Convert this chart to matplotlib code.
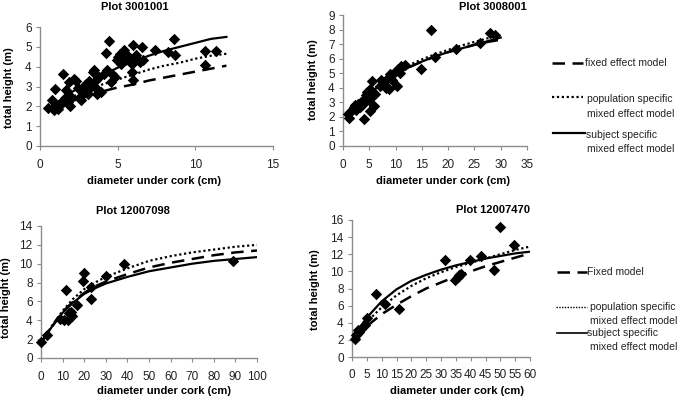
import numpy as np
import matplotlib.pyplot as plt
from matplotlib.lines import Line2D

plt.rcParams['font.family'] = ['Liberation Sans', 'DejaVu Sans']

# ---- Plot 3001001 ----
p1_dbh = [0.5, 0.75, 0.95, 0.9, 1.15, 1.05, 1.35, 1.5, 1.6, 1.7, 1.85, 1.8, 1.9, 2.0,
          2.3, 2.45, 2.55, 2.65, 2.75, 2.85, 2.95, 3.05, 3.15, 3.25, 3.4, 3.5, 3.55,
          3.6, 3.7, 3.8, 3.9, 4.1, 4.3, 4.25, 4.45, 4.55, 4.65, 4.8, 4.95, 5.05, 5.15,
          5.2, 5.4, 5.5, 5.6, 5.8, 5.9, 6.0, 5.9, 6.0, 6.2, 6.55, 6.45, 6.65, 7.4,
          8.25, 8.65, 8.7, 10.6, 10.6, 11.3, 2.2, 2.9, 3.1, 3.3, 5.3, 5.7]
p1_h = [1.92, 2.3, 2.85, 1.8, 1.88, 1.97, 2.13, 3.65, 2.4, 2.8, 3.23, 2.22, 2.0, 2.47,
        3.3, 2.9, 2.47, 2.3, 2.72, 2.97, 3.14, 2.8, 3.3, 3.06, 3.75, 3.82, 3.3,
        2.9, 2.64, 3.48, 2.72, 3.65, 3.82, 4.7, 5.3, 3.23, 3.65, 3.48, 4.32, 4.49, 4.66,
        4.15, 4.82, 4.4, 4.57, 4.32, 4.15, 5.1, 3.73, 3.31, 4.57, 4.98, 4.23, 4.35, 4.82,
        4.72, 5.4, 4.6, 4.8, 4.1, 4.8, 3.4, 3.1, 2.6, 2.95, 4.3, 4.45]
p1_x = [0.5, 1, 2, 3, 4, 5, 6, 7, 8, 9, 10, 11, 12]
p1_fixed = [1.8, 1.95, 2.25, 2.5, 2.75, 2.95, 3.1, 3.3, 3.45, 3.6, 3.75, 3.9, 4.05]
p1_pop = [1.85, 2.05, 2.45, 2.8, 3.1, 3.35, 3.6, 3.85, 4.05, 4.2, 4.4, 4.55, 4.65]
p1_subj = [1.9, 2.15, 2.7, 3.15, 3.55, 3.95, 4.25, 4.55, 4.8, 5.0, 5.2, 5.4, 5.5]

# ---- Plot 3008001 ----
p2_dbh = [1.15, 1.4, 0.95, 1.9, 2.2, 2.55, 2.85, 3.2, 3.5, 3.8, 4.0, 4.1, 4.45, 4.8,
          5.0, 5.1, 5.2, 5.4, 5.6, 5.85, 6.1, 7.0, 7.3, 7.8, 8.15, 8.4, 8.8, 8.9, 9.4,
          9.9, 10.3, 10.5, 10.8, 11.1, 11.8, 14.8, 16.7, 17.5, 21.5, 26.1, 27.9, 29.0,
          2.0, 2.7, 3.0, 3.4, 4.3, 4.6, 4.9, 5.3]
p2_h = [1.95, 2.34, 2.22, 2.57, 2.8, 2.45, 2.91, 2.68, 3.03, 2.91, 1.88, 3.26, 3.49, 3.72,
        3.14, 3.95, 2.41, 3.37, 4.47, 2.75, 3.6, 4.1, 4.52, 4.29, 4.01, 4.63, 3.95, 4.93, 4.52,
        5.09, 4.1, 5.32, 5.02, 5.48, 5.55, 5.28, 7.96, 6.12, 6.63, 7.09, 7.73, 7.61,
        2.7, 2.6, 2.9, 2.95, 3.3, 3.7, 3.5, 3.8]
p2_x = [1, 2.5, 5, 7.5, 10, 12.5, 15, 17.5, 20, 22.5, 25, 27.5, 30]
p2_fixed = [2.0, 2.75, 3.6, 4.3, 4.9, 5.4, 5.8, 6.15, 6.45, 6.7, 6.95, 7.15, 7.3]
p2_pop = [2.1, 2.8, 3.65, 4.4, 5.0, 5.55, 5.95, 6.3, 6.6, 6.9, 7.15, 7.4, 7.6]
p2_subj = [2.1, 2.8, 3.6, 4.3, 4.9, 5.4, 5.8, 6.15, 6.45, 6.7, 6.95, 7.2, 7.45]

# ---- Plot 12007098 ----
p3_dbh = [0.1, 2.8, 8.9, 10.7, 11.5, 12.3, 13.0, 13.8, 14.5, 14.1, 16.5, 19.9, 19.6,
          23.0, 23.3, 29.9, 38.6, 88.8]
p3_h = [1.69, 2.46, 4.12, 3.98, 7.2, 3.98, 4.82, 4.58, 4.47, 4.93, 5.63, 9.05, 8.2,
        7.5, 6.23, 8.7, 9.93, 10.3]
p3_x = [0, 5, 10, 15, 20, 25, 30, 40, 50, 60, 70, 80, 90, 100]
p3_fixed = [1.6, 3.3, 4.9, 6.0, 6.9, 7.6, 8.1, 8.9, 9.6, 10.1, 10.5, 10.9, 11.2, 11.4]
p3_pop = [1.6, 3.4, 5.0, 6.3, 7.3, 8.0, 8.6, 9.5, 10.3, 10.8, 11.2, 11.5, 11.8, 12.0]
p3_subj = [1.6, 3.3, 4.8, 5.9, 6.8, 7.4, 7.9, 8.6, 9.2, 9.6, 10.0, 10.3, 10.5, 10.7]

# ---- Plot 12007470 ----
p4_dbh = [0.9, 1.35, 2.0, 2.5, 3.1, 1.7, 5.05, 4.5, 8.1, 11.2, 15.7, 31.2, 34.8, 35.7,
          36.2, 36.9, 39.9, 43.6, 47.8, 49.8, 54.5]
p4_h = [2.15, 2.54, 3.1, 2.9, 3.3, 2.7, 4.5, 3.7, 7.3, 6.2, 5.6, 11.3, 9.0, 9.3,
        9.6, 9.7, 11.3, 11.8, 10.2, 15.2, 13.1]
p4_x = [0.5, 5, 10, 15, 20, 25, 30, 35, 40, 45, 50, 55, 60]
p4_fixed = [2.0, 3.6, 5.0, 6.1, 7.1, 8.0, 8.7, 9.4, 10.0, 10.6, 11.1, 11.6, 12.1]
p4_pop = [2.1, 4.1, 5.8, 7.2, 8.3, 9.2, 9.9, 10.5, 11.0, 11.5, 12.0, 12.5, 12.9]
p4_subj = [2.4, 4.6, 6.5, 7.9, 8.9, 9.6, 10.2, 10.7, 11.1, 11.5, 11.8, 12.1, 12.3]

W, H = 685, 397
fig = plt.figure(figsize=(W / 100, H / 100), dpi=100)

def fx(px):
    return px / W

def fy(py):
    return 1 - py / H

DASH = dict(color='black', lw=1.8, dashes=(5, 3))
DOT = dict(color='black', lw=1.6, linestyle=(0, (1, 1.2)))
SOLID = dict(color='black', lw=1.6)

panels = [
    # box(l, t, r, b) in px, data, xlim, xticks, ylim, yticks
    ((40, 27, 273, 146), p1_dbh, p1_h, p1_x, p1_fixed, p1_pop, p1_subj,
     (0, 15), np.arange(0, 16, 5), (0, 6), np.arange(0, 7, 1)),
    ((343, 15, 527, 146), p2_dbh, p2_h, p2_x, p2_fixed, p2_pop, p2_subj,
     (0, 35), np.arange(0, 36, 5), (0, 9), np.arange(0, 10, 1)),
    ((41, 226, 257, 358), p3_dbh, p3_h, p3_x, p3_fixed, p3_pop, p3_subj,
     (0, 100), np.arange(0, 101, 10), (0, 14), np.arange(0, 15, 2)),
    ((352, 220, 530, 357), p4_dbh, p4_h, p4_x, p4_fixed, p4_pop, p4_subj,
     (0, 60), np.arange(0, 61, 5), (0, 16), np.arange(0, 17, 2)),
]

for box, dx, dy, cx, cf, cp, cs, xl, xt, yl, yt in panels:
    l, t, r, b = box
    ax = fig.add_axes([fx(l), fy(b), fx(r) - fx(l), fy(t) - fy(b)])
    ax.scatter(dx, dy, marker='D', s=34, color='black', zorder=3, linewidths=0,
               clip_on=False)
    ax.plot(cx, cf, **DASH)
    ax.plot(cx, cp, **DOT)
    ax.plot(cx, cs, **SOLID)
    ax.set_xlim(*xl)
    ax.set_ylim(*yl)
    ax.set_xticks(xt)
    ax.set_yticks(yt)
    for s in ['top', 'right']:
        ax.spines[s].set_visible(False)
    for s in ['left', 'bottom']:
        ax.spines[s].set_color('#8c8c8c')
        ax.spines[s].set_linewidth(1.0)
    ax.tick_params(direction='out', length=3, width=0.8, color='#8c8c8c',
                   labelsize=8.5, labelcolor='#222222', pad=3)
    ax.tick_params(axis='x', pad=6)

tkw = dict(fontsize=8, fontweight='bold', ha='center', va='center')
fig.text(fx(135), fy(7), 'Plot 3001001', **tkw)
fig.text(fx(493), fy(7), 'Plot 3008001', **tkw)
fig.text(fx(133), fy(211), 'Plot 12007098', **tkw)
fig.text(fx(493), fy(210), 'Plot 12007470', **tkw)

fig.text(fx(154), fy(181), 'diameter under cork (cm)', **tkw)
fig.text(fx(443), fy(181), 'diameter under cork (cm)', **tkw)
fig.text(fx(164), fy(391), 'diameter under cork (cm)', **tkw)
fig.text(fx(457), fy(391), 'diameter under cork (cm)', **tkw)

fig.text(fx(9), fy(88), 'total height (m)', rotation=90, **tkw)
fig.text(fx(313), fy(80), 'total height (m)', rotation=90, **tkw)
fig.text(fx(6), fy(298), 'total height (m)', rotation=90, **tkw)
fig.text(fx(315), fy(290), 'total height (m)', rotation=90, **tkw)

# legends (samples + text in figure space)
lkw = dict(fontsize=7.5, color='#222222', ha='left', va='center')

def sample(x0, x1, y, style):
    fig.add_artist(Line2D([fx(x0), fx(x1)], [fy(y), fy(y)],
                          transform=fig.transFigure, **style))

sample(552, 583, 63, DASH)
fig.text(fx(585), fy(63), 'fixed effect model', **lkw)
sample(552, 583, 97, DOT)
fig.text(fx(587), fy(99), 'population specific', **lkw)
fig.text(fx(587), fy(114), 'mixed effect model', **lkw)
sample(553, 585, 133, SOLID)
fig.text(fx(586), fy(135), 'subject specific', **lkw)
fig.text(fx(587), fy(149), 'mixed effect model', **lkw)

sample(557, 587, 272, DASH)
fig.text(fx(587), fy(272), 'Fixed model', **lkw)
sample(556, 587, 307, dict(color='black', lw=1.0, linestyle=(0, (1, 1))))
fig.text(fx(590), fy(307), 'population specific', **lkw)
fig.text(fx(590), fy(321), 'mixed effect model', **lkw)
sample(557, 587, 333, dict(color='black', lw=1.2))
fig.text(fx(587), fy(333), 'subject specific', **lkw)
fig.text(fx(590), fy(347), 'mixed effect model', **lkw)

fig.savefig('out.png', dpi=100)
